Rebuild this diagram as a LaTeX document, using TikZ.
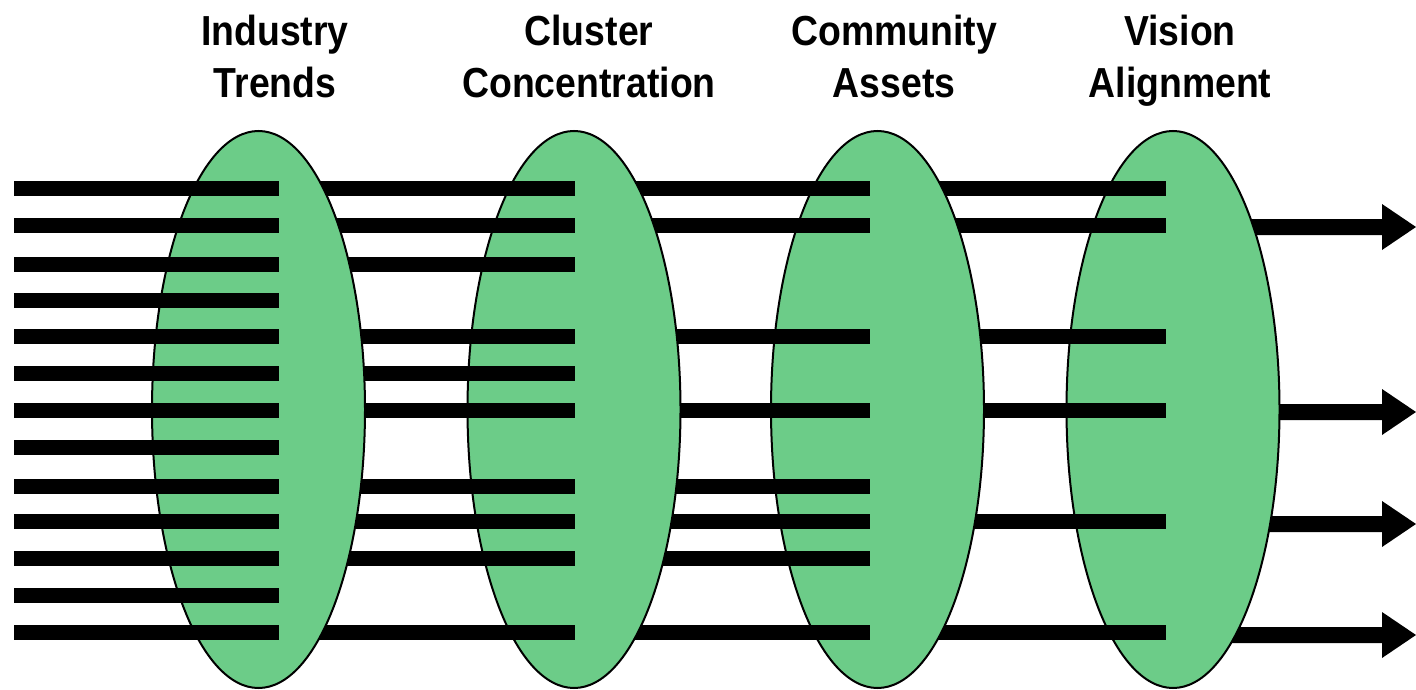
\documentclass[tikz,border=0pt]{standalone}
\usepackage{fontspec}
\setmainfont[FakeStretch=0.89]{Liberation Sans}
\usetikzlibrary{shapes.geometric}
\definecolor{ovalgreen}{RGB}{108,204,136}
\begin{document}
\begin{tikzpicture}[x=1pt,y=-1pt,
  oval/.style={ellipse,draw=black,line width=2pt,fill=ovalgreen,minimum width=213pt,minimum height=557pt,inner sep=0pt},
  bar/.style={line width=15pt,black},
  lbl/.style={font=\fontsize{42}{52}\selectfont\bfseries,align=center,anchor=north,inner sep=0pt}]
\useasboundingbox (0,0) rectangle (1416,690);
% output arrows
\foreach \y [count=\i] in {227,412,524,635}{
  \coordinate (as\i) at (1160,\y);
  \fill[black] (1160,\y-8) -- (1382,\y-8) -- (1382,\y-23) -- (1416,\y) -- (1382,\y+23) -- (1382,\y+8) -- (1160,\y+8) -- cycle;
}
% ellipse 4 and segment 4
\node[oval] (e4) at (1173,409.5) {};
\foreach \y in {188,225,336,410,521,632}{\draw[bar] (865,\y) -- (1166,\y);}
% ellipse 3 and segment 3
\node[oval] (e3) at (877.5,409.5) {};
\foreach \y in {188,225,336,410,486,521,558,632}{\draw[bar] (570,\y) -- (870,\y);}
% ellipse 2 and segment 2
\node[oval] (e2) at (574,409.5) {};
\foreach \y in {188,225,264,336,373,410,486,521,558,632}{\draw[bar] (270,\y) -- (575,\y);}
% ellipse 1 and segment 1
\node[oval] (e1) at (258.5,409.5) {};
\foreach \y in {188,225,264,300,336,373,410,447,486,521,558,595,632}{\draw[bar] (14,\y) -- (279,\y);}
% labels
\node[lbl] (l1) at (275,15) {Industry\\Trends};
\node[lbl] (l2) at (589,15) {Cluster\\Concentration};
\node[lbl] (l3) at (894,15) {Community\\Assets};
\node[lbl] (l4) at (1180,15) {Vision\\Alignment};
\end{tikzpicture}
\end{document}
